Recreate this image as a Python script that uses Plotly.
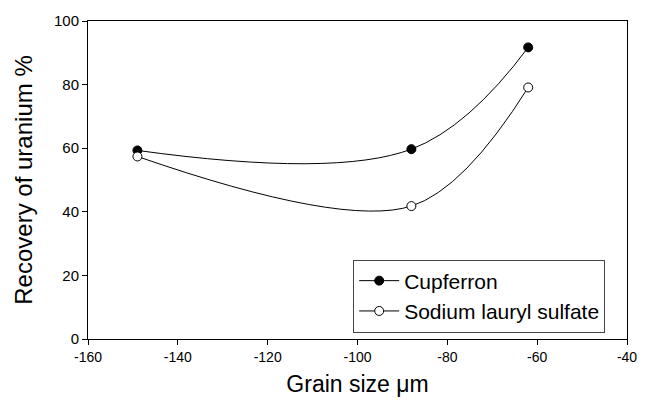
import plotly.graph_objects as go

grain_size = [-149, -88, -62]
cupferron = [59.3, 59.7, 91.7]
sodium_lauryl_sulfate = [57.4, 41.8, 79.1]

x_ticks = [-160, -140, -120, -100, -80, -60, -40]
y_ticks = [0, 20, 40, 60, 80, 100]

FONT = "Arial, Liberation Sans, sans-serif"

fig = go.Figure()
fig.add_trace(go.Scatter(
    x=grain_size, y=cupferron, name="Cupferron",
    mode="lines+markers",
    line=dict(color="black", width=1, shape="spline", smoothing=1.1),
    marker=dict(symbol="circle", size=9, color="black", line=dict(color="black", width=1)),
))
fig.add_trace(go.Scatter(
    x=grain_size, y=sodium_lauryl_sulfate, name="Sodium lauryl sulfate",
    mode="lines+markers",
    line=dict(color="black", width=1, shape="spline", smoothing=1.0),
    marker=dict(symbol="circle", size=9, color="white", line=dict(color="black", width=1)),
))

fig.update_layout(
    width=649, height=405,
    margin=dict(l=88, r=12, t=21, b=59),
    paper_bgcolor="white", plot_bgcolor="white",
    font=dict(family=FONT, color="black"),
    showlegend=True,
    legend=dict(
        x=0.492, y=0.25, xanchor="left", yanchor="top",
        bgcolor="white", bordercolor="#444", borderwidth=1,
        font=dict(size=21, family=FONT, color="black"),
        tracegroupgap=0, itemwidth=40,
    ),
)
fig.update_xaxes(
    range=[-160, -40], tickvals=x_ticks, ticktext=[str(v) for v in x_ticks],
    showgrid=False, zeroline=False,
    showline=True, linecolor="black", linewidth=1, mirror=True,
    ticks="outside", ticklen=5, tickcolor="black",
    tickfont=dict(size=14, family=FONT),
    title=dict(text="Grain size μm", font=dict(size=23, family=FONT), standoff=12),
)
fig.update_yaxes(
    range=[0, 100], tickvals=y_ticks, ticktext=[str(v) for v in y_ticks],
    showgrid=False, zeroline=False,
    showline=True, linecolor="black", linewidth=1, mirror=True,
    ticks="outside", ticklen=5, tickcolor="black",
    tickfont=dict(size=15, family=FONT),
    title=dict(text="Recovery of uranium %", font=dict(size=24, family=FONT), standoff=14),
)

fig.write_html("out.html")
